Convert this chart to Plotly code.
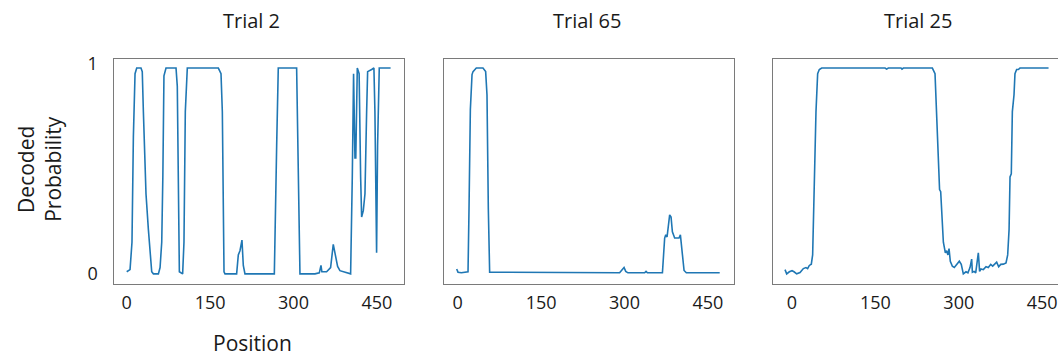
import plotly.graph_objects as go

# ---- data ----
titles = ["Trial 2", "Trial 65", "Trial 25"]
x_ticks = [0, 150, 300, 450]
x_tick_labels = ["0", "150", "300", "450"]
y_ticks = [0, 1]
y_tick_labels = ["0", "1"]

pos_trial2 = [0, 6, 9.5, 12, 15, 18, 25.7, 28, 30, 34.7, 39, 42, 45, 48, 57, 60, 63, 65, 67, 70.7,
              88.7, 91, 93, 94.7, 100.6, 103, 105.4, 109, 164.8, 169.6, 172, 175, 176.8, 197.7,
              200.7, 203.7, 207.3, 209.7, 212.7, 265.5, 269.7, 272.6, 305.6, 308.6, 311.6, 338.6,
              346.4, 349.4, 351, 359.5, 366.7, 371.5, 375, 379.3, 383.5, 402.7, 405.7, 408, 410.5,
              412, 414.7, 418, 420.7, 422.5, 425.5, 428.5, 431.5, 433.3, 440.5, 444.6, 446.4,
              449.4, 451.2, 454.2, 474.6]
prob_trial2 = [0.01, 0.02, 0.15, 0.65, 0.95, 0.977, 0.977, 0.96, 0.77, 0.38, 0.21, 0.12, 0.01, 0.0, 0.0,
               0.03, 0.15, 0.46, 0.94, 0.977, 0.977, 0.89, 0.46, 0.01, 0.0, 0.15, 0.77, 0.977, 0.977,
               0.95, 0.77, 0.01, 0.0, 0.0, 0.09, 0.11, 0.16, 0.04, 0.0, 0.0, 0.61, 0.977, 0.977, 0.46,
               0.0, 0.0, 0.005, 0.04, 0.01, 0.01, 0.03, 0.14, 0.09, 0.035, 0.015, 0.0, 0.46, 0.95,
               0.55, 0.55, 0.977, 0.95, 0.46, 0.27, 0.30, 0.38, 0.77, 0.96, 0.97, 0.977, 0.77, 0.10,
               0.61, 0.977, 0.977]

pos_trial65 = [0, 2.4, 8.4, 20.4, 22.2, 24.6, 27.6, 29.4, 35.3, 47.3, 52.1, 54.5, 56.9, 59.3, 293,
               298, 301, 304, 308, 338, 340.5, 343, 370, 374, 376, 378.3, 383, 385.5, 387.9, 392,
               399.8, 402.3, 405.9, 408.9, 413, 473]
prob_trial65 = [0.023, 0.008, 0.005, 0.01, 0.31, 0.78, 0.946, 0.96, 0.977, 0.977, 0.96, 0.85, 0.31,
                0.008, 0.005, 0.02, 0.03, 0.012, 0.005, 0.005, 0.012, 0.005, 0.005, 0.17, 0.185,
                0.175, 0.28, 0.27, 0.20, 0.17, 0.17, 0.185, 0.09, 0.016, 0.005, 0.005]

pos_trial25 = [0, 3, 7.8, 12.6, 16.2, 21, 27, 33, 37.7, 40.7, 43.7, 47.3, 49.7, 52.7, 55.7, 58.7, 61.7,
               66, 180, 182.8, 185.8, 208.6, 210.4, 212.8, 265, 269.8, 272.8, 276.4, 278, 280, 282.4,
               284.8, 288.4, 290.7, 293, 295, 297.3, 301, 304.5, 308.7, 313.5, 317, 320.7, 325.5, 329,
               332.7, 335.7, 337, 340, 343, 345.3, 347.7, 350, 352.5, 356.7, 361.5, 365.7, 370,
               373.5, 377.7, 380.7, 384.3, 388, 392.7, 397.5, 400.5, 403, 404.7, 407, 408.9, 411.9,
               413.6, 416.6, 419.6, 422.6, 474]
prob_trial25 = [0.02, 0.0, 0.01, 0.015, 0.01, 0.0, 0.006, 0.025, 0.03, 0.025, 0.04, 0.046, 0.09, 0.46,
                0.77, 0.95, 0.97, 0.977, 0.977, 0.972, 0.977, 0.977, 0.972, 0.977, 0.977, 0.95, 0.77,
                0.49, 0.40, 0.39, 0.24, 0.15, 0.10, 0.11, 0.09, 0.12, 0.06, 0.036, 0.03, 0.046, 0.06,
                0.045, 0.0, 0.01, 0.005, 0.03, 0.07, 0.008, 0.012, 0.005, 0.045, 0.10, 0.012, 0.023,
                0.02, 0.034, 0.03, 0.045, 0.037, 0.05, 0.056, 0.034, 0.045, 0.046, 0.052, 0.09, 0.21,
                0.46, 0.475, 0.77, 0.85, 0.95, 0.97, 0.97, 0.977, 0.977]

series_x = [pos_trial2, pos_trial65, pos_trial25]
series_y = [prob_trial2, prob_trial65, prob_trial25]

# ---- layout geometry ----
W, H = 1058, 356
x_domains = [[114.3 / W, 404 / W], [444 / W, 733.5 / W], [772.5 / W, 1.0]]
x_ranges = [[-22.3, 498.7], [-22.8, 497.8], [-22.5, 491.0]]
label_shift = [0, 1, 7]
y_domain = [1 - 282.7 / H, 1 - 52.3 / H]
y_range = [-0.046, 1.02]

LINE = "#1f77b4"
FRAME = "#7a7a7a"
FONT = "Open Sans"

fig = go.Figure()
for i in range(3):
    sfx = "" if i == 0 else str(i + 1)
    fig.add_trace(go.Scatter(
        x=series_x[i], y=series_y[i], mode="lines",
        line=dict(color=LINE, width=1.6), xaxis="x" + sfx, yaxis="y" + sfx,
        showlegend=False, hoverinfo="skip"))

layout = dict(
    width=W, height=H, margin=dict(l=0, r=0, t=0, b=0),
    paper_bgcolor="white", plot_bgcolor="white",
    font=dict(family=FONT, size=18, color="#1a1a1a"),
    annotations=[],
)
for i in range(3):
    sfx = "" if i == 0 else str(i + 1)
    layout["xaxis" + sfx] = dict(
        domain=x_domains[i], range=x_ranges[i], anchor="y" + sfx,
        tickvals=x_ticks, ticktext=x_tick_labels, ticks="",
        showgrid=False, zeroline=False, showline=True, linecolor=FRAME, linewidth=1,
        mirror=True, ticklabelstandoff=3, ticklabelshift=label_shift[i],
        tickfont=dict(family=FONT, size=18, color="#1a1a1a"),
    )
    layout["yaxis" + sfx] = dict(
        domain=y_domain, range=y_range, anchor="x" + sfx,
        tickvals=y_ticks, ticktext=y_tick_labels, ticks="",
        showticklabels=(i == 0),
        showgrid=False, zeroline=False, showline=True, linecolor=FRAME, linewidth=1,
        mirror=(i != 2), ticklabelstandoff=12,
        tickfont=dict(family=FONT, size=18, color="#1a1a1a"),
    )

title_x = [251, 587, 918]
for t, xc in zip(titles, title_x):
    layout["annotations"].append(dict(
        text=t, x=xc / W, y=1 - 13 / H, xref="paper", yref="paper",
        xanchor="center", yanchor="middle", showarrow=False,
        font=dict(family=FONT, size=20, color="#1a1a1a")))

layout["annotations"].append(dict(
    text="Decoded<br>Probability", x=40 / W, y=1 - 165 / H, xref="paper", yref="paper",
    xanchor="center", yanchor="middle", showarrow=False, textangle=-90,
    font=dict(family=FONT, size=21, color="#1a1a1a")))
layout["annotations"].append(dict(
    text="Position", x=252 / W, y=1 - 344 / H, xref="paper", yref="paper",
    xanchor="center", yanchor="middle", showarrow=False,
    font=dict(family=FONT, size=21, color="#1a1a1a")))

fig.update_layout(**layout)
fig.write_html(
    "out.html",
    config={"displayModeBar": False},
    post_script="document.body.style.margin='0';document.body.style.overflow='hidden';",
)
